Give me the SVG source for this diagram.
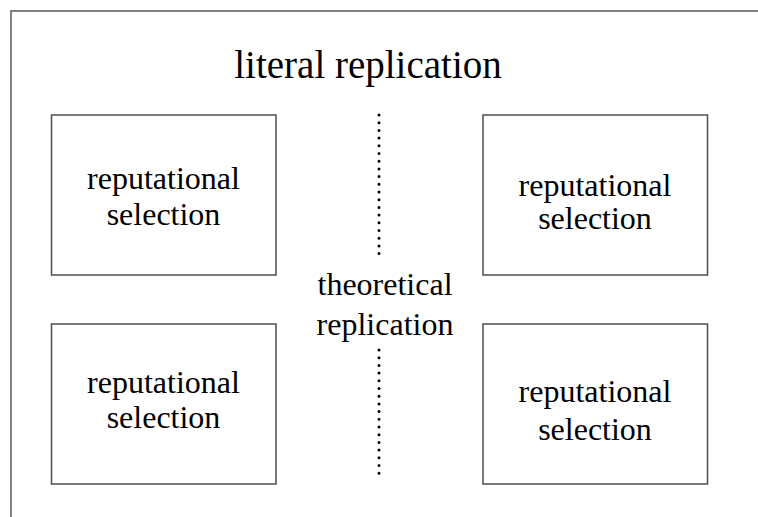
<svg xmlns="http://www.w3.org/2000/svg" width="758" height="517" viewBox="0 0 758 517">
  <style>
    text { font-family: "Liberation Serif", "Times New Roman", serif; fill: #000; text-anchor: middle; }
    .title { font-size: 39px; }
    .label { font-size: 32px; }
    .box { fill: #fff; stroke: #4d4d4d; stroke-width: 1.5; }
    .dots { stroke: #000; stroke-width: 3; stroke-linecap: round; stroke-dasharray: 0 7.7; fill: none; }
  </style>
  <rect width="758" height="517" fill="#fff"/>
  <!-- outer frame, running past the right and bottom edges -->
  <rect x="11" y="11" width="770" height="530" fill="none" stroke="#808080" stroke-width="2"/>

  <text class="title" x="368" y="78">literal replication</text>

  <g id="node-top-left">
    <rect class="box" x="51.5" y="115" width="224.5" height="160"/>
    <text class="label" x="163.5" y="189">reputational</text>
    <text class="label" x="163.5" y="225">selection</text>
  </g>
  <g id="node-top-right">
    <rect class="box" x="483" y="115" width="224.5" height="160"/>
    <text class="label" x="595" y="196">reputational</text>
    <text class="label" x="595" y="229">selection</text>
  </g>
  <g id="node-bottom-left">
    <rect class="box" x="51.5" y="324" width="224.5" height="160"/>
    <text class="label" x="163.5" y="393">reputational</text>
    <text class="label" x="163.5" y="428">selection</text>
  </g>
  <g id="node-bottom-right">
    <rect class="box" x="483" y="324" width="224.5" height="160"/>
    <text class="label" x="595" y="402">reputational</text>
    <text class="label" x="595" y="440">selection</text>
  </g>

  <g id="node-theoretical">
    <text class="label" x="385" y="295">theoretical</text>
    <text class="label" x="385" y="335">replication</text>
  </g>

  <g id="connectors">
    <line class="dots" x1="379" y1="115" x2="379" y2="258"/>
    <line class="dots" x1="379" y1="350" x2="379" y2="477"/>
  </g>
</svg>
